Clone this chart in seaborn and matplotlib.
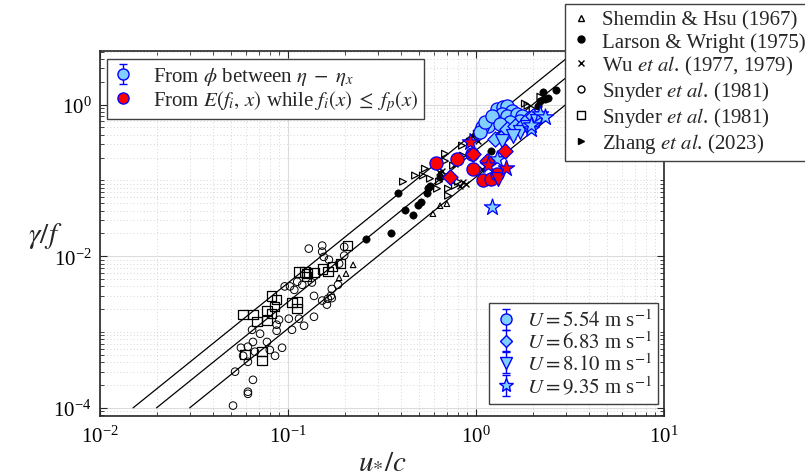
import matplotlib
matplotlib.use("Agg")
import matplotlib.pyplot as plt
import numpy as np
import seaborn as sns
from matplotlib.lines import Line2D
from matplotlib.ticker import LogLocator, NullFormatter

# ---- data ----
# Shemdin & Hsu (1967)
shemdin_x = [0.222, 0.2035, 0.187, 0.59, 0.644, 0.70]
shemdin_y = [0.0077, 0.0059, 0.0052, 0.0364, 0.0464, 0.0493]
# Larson & Wright (1975)
larson_x = [0.26, 0.353, 0.385, 0.419, 0.462, 0.491, 0.509, 0.548, 0.556, 0.569, 0.644,
            1.20, 2.14, 2.19, 2.27, 2.33, 2.42, 2.67]
larson_y = [0.017, 0.0204, 0.0689, 0.0411, 0.0353, 0.048, 0.0524, 0.0689, 0.080, 0.085, 0.112,
            0.247, 0.97, 1.10, 1.48, 1.2, 1.24, 1.58]
# Wu et al. (1977, 1979)
wu_x = [0.659, 0.636, 0.822, 0.853, 0.89, 1.07, 0.95, 1.03, 0.773]
wu_y = [0.134, 0.13, 0.0853, 0.0963, 0.091, 0.143, 0.39, 0.335, 0.167]
# Snyder et al. (1981), circles
snyc_x = [0.129, 0.152, 0.152, 0.155, 0.165, 0.199, 0.199, 0.187, 0.112, 0.096, 0.1025, 0.108,
          0.119, 0.134, 0.1375, 0.171, 0.169, 0.163, 0.152, 0.161, 0.171, 0.1845, 0.0896, 0.087,
          0.087, 0.101, 0.1145, 0.1217, 0.1375, 0.105, 0.071, 0.0644, 0.0773, 0.0651, 0.0612,
          0.0562, 0.0667, 0.080, 0.0853, 0.093, 0.0577, 0.0612, 0.0523, 0.0651, 0.0612, 0.0612,
          0.051]
snyc_y = [0.0126, 0.0138, 0.0115, 0.0098, 0.009, 0.0133, 0.0102, 0.008, 0.0046, 0.0040, 0.0040,
          0.0036, 0.0042, 0.0045, 0.0030, 0.0037, 0.0030, 0.00275, 0.0026, 0.0023, 0.0028, 0.0042,
          0.00145, 0.00125, 0.00104, 0.0015, 0.0015, 0.00121, 0.00159, 0.00107, 0.00095, 0.00107,
          0.00074, 0.00074, 0.00064, 0.00062, 0.00055, 0.00058, 0.000486, 0.00062, 0.000486,
          0.000405, 0.0003, 0.000234, 0.000163, 0.000153, 0.000107]
# Snyder et al. (1981), squares
snys_x = [0.208, 0.191, 0.173, 0.163, 0.152, 0.1375, 0.125, 0.123, 0.1145, 0.126, 0.082, 0.087,
          0.085, 0.0773, 0.082, 0.0773, 0.0684, 0.0651, 0.0577, 0.105, 0.1117, 0.1117, 0.0728,
          0.0728, 0.059]
snys_y = [0.0138, 0.0080, 0.0073, 0.0063, 0.0068, 0.0061, 0.0054, 0.0062, 0.0062, 0.0059, 0.0030,
          0.00267, 0.00215, 0.00191, 0.00174, 0.00141, 0.00137, 0.00169, 0.00169, 0.00243, 0.0025,
          0.00203, 0.00055, 0.000417, 0.0005]
# Zhang et al. (2023)
zhang_x = [0.684, 0.684, 0.62, 0.535, 0.474, 0.409, 0.522, 0.569, 0.636, 0.71, 0.773, 0.802,
           0.71, 0.755, 0.853, 0.929, 0.988, 1.01, 0.843, 0.684, 0.62, 1.82, 1.88, 2.2, 2.0]
zhang_y = [0.225, 0.18, 0.157, 0.143, 0.116, 0.0963, 0.116, 0.1055, 0.0963, 0.0778, 0.0853,
           0.0963, 0.063, 0.157, 0.212, 0.325, 0.356, 0.414, 0.288, 0.116, 0.0778, 1.03, 0.97,
           1.27, 0.88]

# present data, phi method, one group per wind speed
u554_x = [1.29, 1.39, 1.47, 1.56, 1.37, 1.26, 1.16, 1.07, 1.05, 1.12, 1.22, 1.46, 1.66, 1.76,
          1.71, 1.52, 1.34]
u554_y = [0.885, 0.94, 0.97, 0.83, 0.76, 0.615, 0.53, 0.51, 0.44, 0.596, 0.716, 0.716, 0.76,
          0.716, 0.615, 0.596, 0.56]
u683_x = [1.39, 1.47, 1.61, 1.79, 1.90, 2.0, 1.26]
u683_y = [0.39, 0.48, 0.53, 0.56, 0.65, 0.716, 0.356]
u810_x = [1.71, 1.86, 1.37, 1.57, 2.1]
u810_y = [0.44, 0.51, 0.335, 0.38, 0.615]
u935_x = [1.97, 1.95, 2.19, 1.217, 1.29, 2.33]
u935_y = [0.48, 0.545, 0.76, 0.045, 0.194, 0.69]
phi_err = 0.08  # relative error bar half-height

# present data, spectral method
red_circ_x = [0.612, 0.792, 0.95, 0.964, 1.09, 1.2, 1.29]
red_circ_y = [0.172, 0.194, 0.225, 0.143, 0.102, 0.1055, 0.123]
red_diam_x = [0.727, 0.964, 1.43, 1.145]
red_diam_y = [0.112, 0.22, 0.247, 0.182]
red_tri_x = [1.31]
red_tri_y = [0.1055]
red_star_x = [1.44, 1.16, 0.929]
red_star_y = [0.147, 0.16, 0.325]

# reference lines gamma/f = beta (u*/c)^2
line_beta = [0.444, 0.25, 0.111]
line_xstart = [0.015, 0.02, 0.03]
line_xend = 4.0

u_labels = [r"$U = 5.54$ m s$^{-1}$", r"$U = 6.83$ m s$^{-1}$",
            r"$U = 8.10$ m s$^{-1}$", r"$U = 9.35$ m s$^{-1}$"]

# ---- style ----
sns.set_theme(style="ticks")
plt.rcParams["font.family"] = ["Liberation Serif", "DejaVu Serif"]
plt.rcParams["mathtext.fontset"] = "stix"

light = "#80cfff"
fig = plt.figure(figsize=(8.05, 4.77), dpi=100)
ax = fig.add_axes([100 / 805, 1 - 417 / 477, 564 / 805, 365 / 477])
ax.set_xscale("log")
ax.set_yscale("log")


def dots(x, y, **kw):
    sns.scatterplot(x=x, y=y, ax=ax, legend=False, **kw)


for b, x0 in zip(line_beta, line_xstart):
    xs = np.array([x0, line_xend])
    sns.lineplot(x=xs, y=b * xs ** 2, ax=ax, color="black", lw=0.9, zorder=2)

dots(snyc_x, snyc_y, marker="o", s=30, fc="none", ec="black", lw=0.7, zorder=3)
dots(snys_x, snys_y, marker="s", s=45, fc="none", ec="black", lw=0.9, zorder=3)
dots(shemdin_x, shemdin_y, marker="^", s=16, fc="none", ec="black", lw=0.8, zorder=3)
dots(zhang_x, zhang_y, marker=">", s=24, fc="none", ec="black", lw=0.9, zorder=3)
dots(larson_x, larson_y, marker="o", s=28, color="black", ec="black", zorder=3)
dots(wu_x, wu_y, marker="x", s=18, color="black", lw=1.0, zorder=3)

groups = [(u554_x, u554_y, "o", 90), (u683_x, u683_y, "D", 60),
          (u810_x, u810_y, "v", 100), (u935_x, u935_y, "*", 150)]
for gx, gy, m, s in groups:
    gy = np.array(gy)
    ax.errorbar(gx, gy, yerr=gy * phi_err, fmt="none", ecolor="blue", elinewidth=1,
                capsize=2.5, zorder=4)
    dots(gx, gy, marker=m, s=s, color=light, ec="blue", lw=0.9, zorder=5)

reds = [(red_circ_x, red_circ_y, "o", 90), (red_diam_x, red_diam_y, "D", 60),
        (red_tri_x, red_tri_y, "v", 100), (red_star_x, red_star_y, "*", 150)]
for gx, gy, m, s in reds:
    dots(gx, gy, marker=m, s=s, color="red", ec="blue", lw=0.9, zorder=6)

# ---- axes ----
ax.set_xlim(1e-2, 1e1)
ax.set_ylim(7.8e-5, 5.1)
ax.set_yticks([1e-4, 1e-2, 1e0])
ax.yaxis.set_minor_locator(LogLocator(base=10, subs=np.arange(1, 10), numticks=50))
ax.yaxis.set_minor_formatter(NullFormatter())
ax.xaxis.set_minor_locator(LogLocator(base=10, subs=np.arange(2, 10), numticks=50))
ax.xaxis.set_minor_formatter(NullFormatter())
ax.tick_params(which="both", direction="in", top=True, right=True, colors="#262626",
               labelsize=15, labelcolor="black")
ax.tick_params(which="major", length=5, width=0.8)
ax.tick_params(which="minor", length=3, width=0.6)
ax.tick_params(axis="x", which="major", pad=7)
ax.tick_params(axis="y", which="major", pad=6)
ax.grid(which="major", color="#dcdcdc", lw=0.8, ls="-")
ax.grid(which="minor", color="#c8c8c8", lw=0.6, ls=(0, (1, 3)))
for sp in ax.spines.values():
    sp.set_color("#262626")
    sp.set_linewidth(1.2)

ax.set_xlabel(r"$u_{*}/c$", fontsize=21, labelpad=0)
ax.set_ylabel(r"$\gamma/f$", fontsize=21, rotation=0, ha="center", va="center")
ax.yaxis.set_label_coords(-0.098, 0.495)

# ---- legends ----
eb_kw = dict(mec="blue", ecolor="blue", elinewidth=1, capsize=3, ls="none")
h_phi = ax.errorbar([np.nan], [np.nan], yerr=[1.0], fmt="o", ms=8, mfc=light, **eb_kw)
h_spec = Line2D([], [], marker="o", ls="none", ms=8, mfc="red", mec="blue")
leg1 = ax.legend([h_phi, h_spec],
                 [r"From $\phi$ between $\eta\;-\;\eta_x$",
                  r"From $E(f_i,\, x)$ while $f_i(x)\;\leq\;f_p(x)$"],
                 loc="upper left", bbox_to_anchor=(0.012, 0.978), fontsize=15,
                 fancybox=False, framealpha=1, edgecolor="#404040", handlelength=1.0,
                 handletextpad=0.9, labelspacing=0.05, borderpad=0.3, borderaxespad=0)
leg1.get_frame().set_linewidth(1.0)
ax.add_artist(leg1)

u_handles = []
for m, ms in [("o", 8), ("D", 6.5), ("v", 9), ("*", 10)]:
    u_handles.append(ax.errorbar([np.nan], [np.nan], yerr=[1.0], fmt=m, ms=ms,
                                 mfc=light, **eb_kw))
leg3 = ax.legend(u_handles, u_labels, loc="lower right", bbox_to_anchor=(0.989, 0.033),
                 fontsize=15, fancybox=False, framealpha=1, edgecolor="#404040",
                 handlelength=1.0, handletextpad=0.5, labelspacing=0.0, borderpad=0.3,
                 borderaxespad=0)
leg3.get_frame().set_linewidth(1.0)

lit_handles = [
    Line2D([], [], marker="^", ls="none", ms=4, mfc="none", mec="black"),
    Line2D([], [], marker="o", ls="none", ms=5, mfc="black", mec="black"),
    Line2D([], [], marker="x", ls="none", ms=5, mec="black"),
    Line2D([], [], marker="o", ls="none", ms=5, mfc="none", mec="black"),
    Line2D([], [], marker="s", ls="none", ms=6, mfc="none", mec="black"),
    Line2D([], [], marker=">", ls="none", ms=4.5, mfc="black", mec="black"),
]
lit_labels = ["Shemdin & Hsu (1967)", "Larson & Wright (1975)",
              r"Wu $\mathit{et\ al}$. (1977, 1979)", r"Snyder $\mathit{et\ al}$. (1981)",
              r"Snyder $\mathit{et\ al}$. (1981)", r"Zhang $\mathit{et\ al}$. (2023)"]
leg2 = fig.legend(lit_handles, lit_labels, loc="upper right",
                  bbox_to_anchor=(812 / 805, 1 - 5 / 477), fontsize=15, fancybox=False,
                  framealpha=1, edgecolor="#404040", handlelength=1.0, handletextpad=0.5,
                  labelspacing=0.1, borderpad=0.3, borderaxespad=0)
leg2.get_frame().set_linewidth(1.0)
leg2.set_zorder(10)

fig.savefig("out.png", dpi=100)
